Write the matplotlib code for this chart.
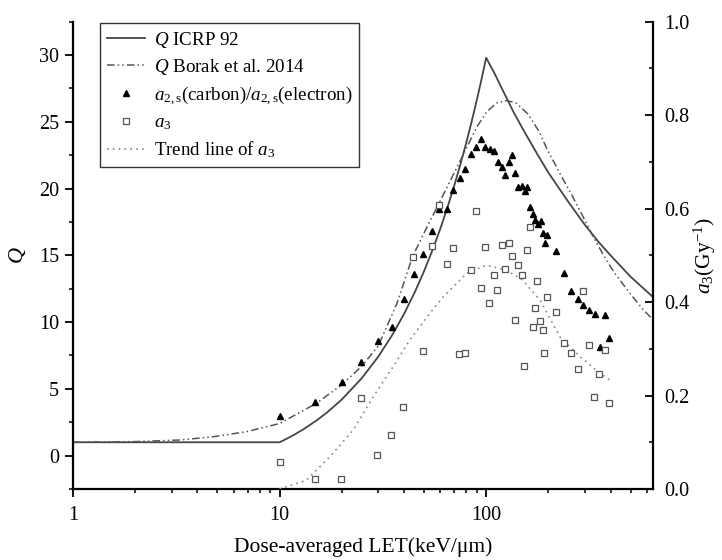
import matplotlib
matplotlib.use('Agg')
import matplotlib.pyplot as plt
from matplotlib.ticker import FixedLocator, MultipleLocator, LogLocator, NullFormatter, FuncFormatter

plt.rcParams['font.family'] = ['Liberation Serif', 'DejaVu Serif']
plt.rcParams['mathtext.fontset'] = 'custom'
plt.rcParams['mathtext.rm'] = 'Liberation Serif'
plt.rcParams['mathtext.it'] = 'Liberation Serif:italic'

# ---- data ----
icrp_L = [1, 10, 11, 12, 13, 15, 17, 20, 25, 30, 35, 40, 45, 50, 55, 60, 65, 70, 75, 80, 85, 90, 95, 100,
          110, 120, 135, 150, 175, 200, 250, 300, 350, 400, 500, 640]
icrp_Q = [1, 1, 1.32, 1.64, 1.96, 2.6, 3.24, 4.2, 5.8, 7.4, 9.0, 10.6, 12.2, 13.8, 15.4, 17.0, 18.6, 20.2, 21.8,
          23.4, 25.0, 26.6, 28.2, 29.8, 28.6, 27.4, 25.8, 24.5, 22.7, 21.2, 19.0, 17.3, 16.0, 15.0, 13.4, 11.9]

borak_L = [1, 2, 3.3, 4.8, 6.9, 10, 15, 20, 25, 30, 37, 44, 52, 60, 75, 90, 100, 112, 126, 140, 159, 180, 198,
           230, 258, 290, 322, 370, 417, 500, 570, 640]
borak_Q = [1.0, 1.05, 1.17, 1.42, 1.79, 2.4, 3.9, 5.3, 6.7, 8.2, 11.4, 14.9, 17.2, 19.1, 22.1, 24.6, 25.7, 26.4,
           26.6, 26.4, 25.6, 24.3, 22.9, 21.0, 19.6, 18.1, 16.7, 15.0, 13.7, 12.1, 11.0, 10.2]

tri_L = [10, 14.9, 20.0, 24.9, 29.9, 34.9, 39.8, 44.7, 49.6, 54.7, 59.3, 64.4, 69.4, 74.7, 79.2, 84.1,
         89.3, 94.1, 99.0, 104, 109.4, 114, 118.8, 123.8, 128.5, 133.8, 138.3, 143, 149, 153.5, 158,
         163.5, 168, 173, 178, 183.6, 188, 193, 197.6, 217, 237, 257, 277, 295, 315, 336, 355.6, 375, 394]
tri_Q = [2.97, 4.04, 5.54, 6.99, 8.61, 9.61, 11.7, 13.6, 15.1, 16.85, 18.5, 18.5, 19.9, 20.8, 21.5, 22.6,
         23.1, 23.7, 23.1, 22.97, 22.8, 21.99, 21.6, 21.05, 22.0, 22.5, 21.2, 20.1, 20.2, 19.8, 20.1,
         18.65, 18.1, 17.65, 17.35, 17.6, 16.65, 15.9, 16.55, 15.3, 13.7, 12.35, 11.7, 11.3, 10.9, 10.6, 8.13, 10.5, 8.79]

sq_L = [10, 14.9, 19.8, 24.9, 29.7, 34.6, 39.5, 44.4, 49.6, 54.4, 59.3, 64.4, 69, 73.8, 79.2, 84.1,
        89.3, 94, 98.8, 103.7, 109, 113, 118.7, 123.7, 128.3, 133, 138.3, 143, 149, 152.6, 157.6,
        162.7, 168, 172.8, 177, 183, 187.7, 191.5, 196.6, 216.7, 237, 256.5, 277.6, 294.6, 316, 334,
        353, 374.6, 395]
sq_a3 = [0.057, 0.021, 0.021, 0.194, 0.073, 0.116, 0.175, 0.497, 0.295, 0.52, 0.607, 0.481, 0.515, 0.289, 0.29, 0.469,
         0.595, 0.43, 0.517, 0.399, 0.458, 0.4265, 0.523, 0.471, 0.526, 0.499, 0.362, 0.479, 0.458, 0.264, 0.511,
         0.561, 0.347, 0.387, 0.446, 0.36, 0.34, 0.29, 0.41, 0.379, 0.312, 0.292, 0.257, 0.424, 0.3075, 0.196,
         0.246, 0.298, 0.185]

trend_L = [10, 13.5, 17.5, 22.7, 28.4, 35.5, 42.7, 53.4, 62, 80.5, 100, 125, 150, 182.6, 227, 285, 356, 400]
trend_a3 = [0.0, 0.019, 0.069, 0.126, 0.1975, 0.262, 0.319, 0.376, 0.4115, 0.4615, 0.479, 0.4686, 0.447, 0.404,
            0.326, 0.283, 0.2476, 0.232]

# ---- figure ----
fig = plt.figure(figsize=(7.22, 5.6), dpi=100)
ax = fig.add_axes([73/722, 1-489/560, (652.7-73)/722, (489-21.7)/560])
ax2 = ax.twinx()

h1, = ax.plot(icrp_L, icrp_Q, '-', color='#454545', lw=1.3)
h2, = ax.plot(borak_L, borak_Q, color='#555555', lw=1.1, linestyle=(0, (5, 2, 1, 2, 1, 2)))
h3, = ax.plot(tri_L, tri_Q, '^', color='black', ms=4.6, mec='black', ls='none')
h5, = ax2.plot(trend_L, trend_a3, color='#888888', lw=1.2, linestyle=(0, (1, 2.5)))
h4, = ax2.plot(sq_L, sq_a3, 's', mfc='white', mec='#555555', mew=0.9, ms=4.2, ls='none')

ax.set_xscale('log')
ax.set_xlim(1, 640)
ax.set_ylim(-2.5, 32.5)
ax2.set_ylim(0, 1)

for a in (ax, ax2):
    a.spines['top'].set_visible(False)
ax2.spines['left'].set_visible(False)
ax2.spines['bottom'].set_visible(False)
ax.spines['right'].set_visible(False)
for s in ('left', 'bottom'):
    ax.spines[s].set_linewidth(1.6)
ax2.spines['right'].set_linewidth(1.6)

ax.xaxis.set_major_locator(FixedLocator([1, 10, 100]))
ax.xaxis.set_major_formatter(FuncFormatter(lambda v, p: '%d' % v))
ax.xaxis.set_minor_locator(LogLocator(base=10, subs=range(2, 10), numticks=20))
ax.xaxis.set_minor_formatter(NullFormatter())
ax.yaxis.set_major_locator(MultipleLocator(5))
ax.yaxis.set_minor_locator(MultipleLocator(2.5))
ax2.yaxis.set_major_locator(MultipleLocator(0.2))
ax2.yaxis.set_minor_locator(MultipleLocator(0.1))
ax2.yaxis.set_major_formatter(FuncFormatter(lambda v, p: '%.1f' % v))

ax.tick_params(axis='both', which='major', direction='out', length=6, width=1.3, labelsize=14.5, pad=4)
ax.tick_params(axis='both', which='minor', direction='out', length=3.2, width=1.1)
ax.tick_params(axis='x', which='major', pad=6)
ax.tick_params(right=False, top=False, which='both')
ax2.tick_params(axis='y', which='major', direction='in', length=6, width=1.3, labelsize=14.5, pad=8)
ax2.tick_params(axis='y', which='minor', direction='in', length=3.2, width=1.1)

ax.set_xlabel('Dose-averaged LET(keV/\u03bcm)', fontsize=15.5, labelpad=9)
ax.set_ylabel('$Q$', fontsize=16, labelpad=8)
ax2.set_ylabel('$a_3$(Gy$^{-1}$)', fontsize=15.5, labelpad=2)

labels = ['$Q$ ICRP 92', '$Q$ Borak et al. 2014',
          '$a_{2,\\mathrm{s}}$(carbon)/$a_{2,\\mathrm{s}}$(electron)', '$a_3$', 'Trend line of $a_3$']
leg = ax2.legend([h1, h2, h3, h4, h5], labels, loc='upper left', bbox_to_anchor=((100-73)/579.7, (489-23)/467.3),
                 borderaxespad=0, fontsize=13.7, frameon=True, fancybox=False, edgecolor='#333333',
                 framealpha=1, handlelength=2.0, handletextpad=0.5, labelspacing=0.38, borderpad=0.35, numpoints=1)
leg.get_frame().set_linewidth(1.0)

fig.savefig('out.png', dpi=100)
